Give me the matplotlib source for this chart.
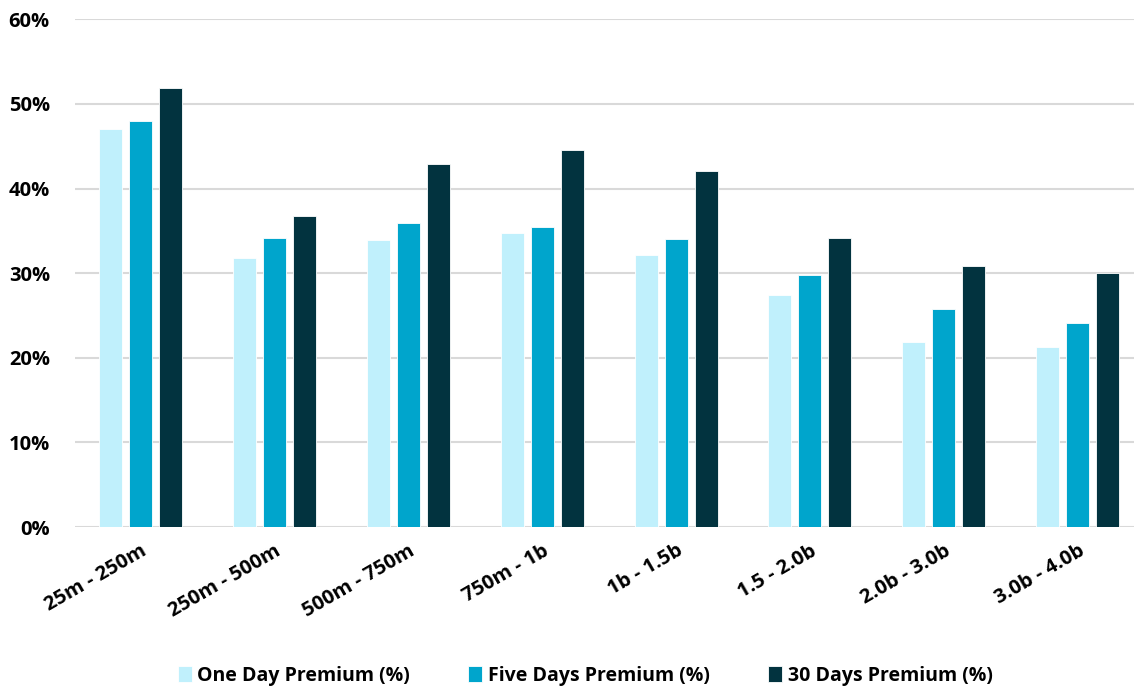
import numpy as np
import matplotlib.pyplot as plt
from matplotlib.ticker import PercentFormatter

plt.rcParams['font.family'] = ['Open Sans', 'DejaVu Sans']
plt.rcParams['font.weight'] = 'bold'

categories = ["25m - 250m", "250m - 500m", "500m - 750m", "750m - 1b",
              "1b - 1.5b", "1.5 - 2.0b", "2.0b - 3.0b", "3.0b - 4.0b"]
one_day = [47.0, 31.8, 33.9, 34.8, 32.1, 27.4, 21.9, 21.3]
five_days = [48.0, 34.1, 35.9, 35.5, 34.0, 29.8, 25.8, 24.1]
thirty_days = [51.9, 36.8, 42.9, 44.5, 42.1, 34.1, 30.9, 30.0]

series = [
    ("One Day Premium (%)", one_day, "#C0F0FC"),
    ("Five Days Premium (%)", five_days, "#00A5CC"),
    ("30 Days Premium (%)", thirty_days, "#02333F"),
]

fig = plt.figure(figsize=(11.34, 6.88), dpi=100)
ax = fig.add_axes([0.066, 0.234, 0.934, 0.738])

x = np.arange(len(categories))
width = 0.172
step = 0.224
for i, (label, vals, color) in enumerate(series):
    ax.bar(x + (i - 1) * step, vals, width, color=color, label=label,
           edgecolor="white", linewidth=0.6, zorder=3)

ax.set_xlim(-0.49, 7.42)
ax.set_ylim(0, 60)
ax.set_yticks(np.arange(0, 61, 10))
ax.yaxis.set_major_formatter(PercentFormatter(decimals=0))
ax.grid(axis='y', color="#D9D9D9", linewidth=1.5, zorder=0)
for s in ax.spines.values():
    s.set_visible(False)
ax.tick_params(axis='y', length=0, labelsize=14.5, pad=18)
ax.tick_params(axis='x', length=0, pad=10)

ax.set_xticks(x)
ax.set_xticklabels(categories, rotation=30, ha='right', rotation_mode='anchor',
                   fontsize=14.5)

fig.legend(loc='lower center', bbox_to_anchor=(0.516, -0.022), ncol=3,
           frameon=False, fontsize=14, handlelength=0.7, handleheight=0.9,
           handletextpad=0.3, columnspacing=3.0)

plt.savefig("out.png", dpi=100)
